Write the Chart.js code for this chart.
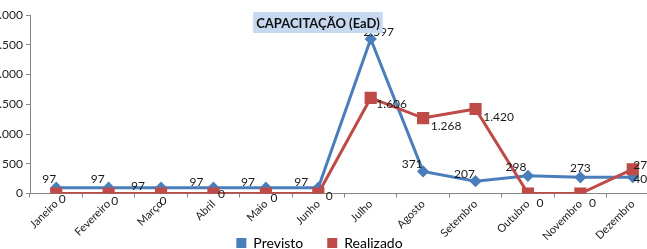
<!DOCTYPE html>
<html>
<head>
<meta charset="utf-8">
<script src="https://cdn.jsdelivr.net/npm/chart.js@4.4.1/dist/chart.umd.min.js"></script>
<style>
  html, body { margin: 0; padding: 0; background: #fff; overflow: hidden; width: 647px; height: 249px; }
  #wrap { position: absolute; left: -20px; top: 0; width: 690px; height: 260px; }
</style>
</head>
<body>
<div id="wrap"><canvas id="myChart" width="690" height="260"></canvas></div>
<script>
let labels = ['Janeiro', 'Fevereiro', 'Março', 'Abril', 'Maio', 'Junho', 'Julho', 'Agosto', 'Setembro', 'Outubro', 'Novembro', 'Dezembro'];
let previsto = [97, 97, 97, 97, 97, 97, 2597, 371, 207, 298, 273, 275];
let realizado = [0, 0, 0, 0, 0, 0, 1606, 1268, 1420, 0, 0, 408];
let colorHex = ['#4a7ebb', '#be4b48'];

// label offsets (px) from each point, previsto / realizado
let previstoOffsets = [[-7, -9], [-11, -9], [-23, -2], [-17, -6], [-18, -6], [-17, -6], [8, -7], [-11, -7], [-11, -7], [-12, -9], [0, -9], [11, -12]];
let realizadoOffsets = [[6, 6], [6, 8], [2, 8], [8, 1], [8, 5], [11, 3], [21, 6], [23, 8], [23, 8], [12, 10], [12, 10], [11, 10]];

const fmt = (v) => String(v).replace(/\B(?=(\d{3})+(?!\d))/g, '.');
const font = 'Lato, "Open Sans", sans-serif';

const pointLabels = {
  id: 'pointLabels',
  afterDatasetsDraw(chart) {
    const c = chart.ctx;
    c.save();
    c.font = '12px ' + font;
    c.fillStyle = '#1a1a1a';
    c.textAlign = 'center';
    c.textBaseline = 'middle';
    [previstoOffsets, realizadoOffsets].forEach((offs, di) => {
      const meta = chart.getDatasetMeta(di);
      meta.data.forEach((pt, i) => {
        c.fillText(fmt(chart.data.datasets[di].data[i]), pt.x + offs[i][0], pt.y + offs[i][1]);
      });
    });
    c.restore();
  }
};

const boxTitle = {
  id: 'boxTitle',
  afterDraw(chart) {
    const c = chart.ctx;
    const text = 'CAPACITAÇÃO (EaD)';
    c.save();
    c.font = 'bold 13px ' + font;
    const w = c.measureText(text).width;
    const cx = 338, cy = 22.5;
    c.fillStyle = '#c6d9f1';
    c.fillRect(cx - w / 2 - 3, cy - 10.5, w + 6, 21);
    c.fillStyle = '#111';
    c.textAlign = 'center';
    c.textBaseline = 'middle';
    c.fillText(text, cx, cy + 1);
    c.restore();
  }
};

// let the rotated month labels run below the x axis box
const openLabels = {
  id: 'openLabels',
  afterLayout(chart) {
    chart.scales.x.bottom = chart.height;
  }
};

let ctx = document.getElementById('myChart').getContext('2d');
let myChart = new Chart(ctx, {
  type: 'line',
  data: {
    labels: labels,
    datasets: [{
      label: 'Previsto',
      data: previsto,
      borderColor: colorHex[0],
      backgroundColor: colorHex[0],
      borderWidth: 3,
      pointStyle: 'rectRot',
      pointRadius: 4,
      tension: 0,
      order: 1
    }, {
      label: 'Realizado',
      data: realizado,
      borderColor: colorHex[1],
      backgroundColor: colorHex[1],
      borderWidth: 3,
      pointStyle: 'rect',
      pointRadius: 6.5,
      tension: 0,
      order: 0
    }]
  },
  options: {
    responsive: false,
    animation: false,
    layout: { padding: { top: 15, right: 11, left: 0, bottom: 0 } },
    plugins: {
      title: { display: false },
      tooltip: { enabled: false },
      legend: {
        position: 'bottom',
        labels: {
          boxWidth: 10,
          boxHeight: 10,
          padding: 24,
          color: '#222',
          font: { family: font, size: 14 },
          generateLabels: (chart) => chart.data.datasets.map((ds, i) => ({
            text: ds.label,
            fillStyle: ds.borderColor,
            strokeStyle: ds.borderColor,
            lineWidth: 0,
            datasetIndex: i
          }))
        }
      }
    },
    scales: {
      x: {
        offset: true,
        afterFit: (scale) => { scale.height = 18.5; },
        grid: { offset: true, drawOnChartArea: false, drawTicks: true, tickLength: 4, color: '#868686' },
        border: { color: '#868686' },
        ticks: {
          minRotation: 45,
          maxRotation: 45,
          padding: 0,
          color: '#222',
          font: { family: font, size: 11 }
        }
      },
      y: {
        min: 0,
        max: 3000,
        afterFit: (scale) => { scale.width = 50; },
        grid: { drawOnChartArea: false, drawTicks: true, tickLength: 4, color: '#868686' },
        border: { color: '#868686' },
        ticks: {
          stepSize: 500,
          padding: 3,
          color: '#222',
          font: { family: font, size: 12 },
          callback: (v) => fmt(v)
        }
      }
    }
  },
  plugins: [pointLabels, boxTitle, openLabels]
});
</script>
</body>
</html>
